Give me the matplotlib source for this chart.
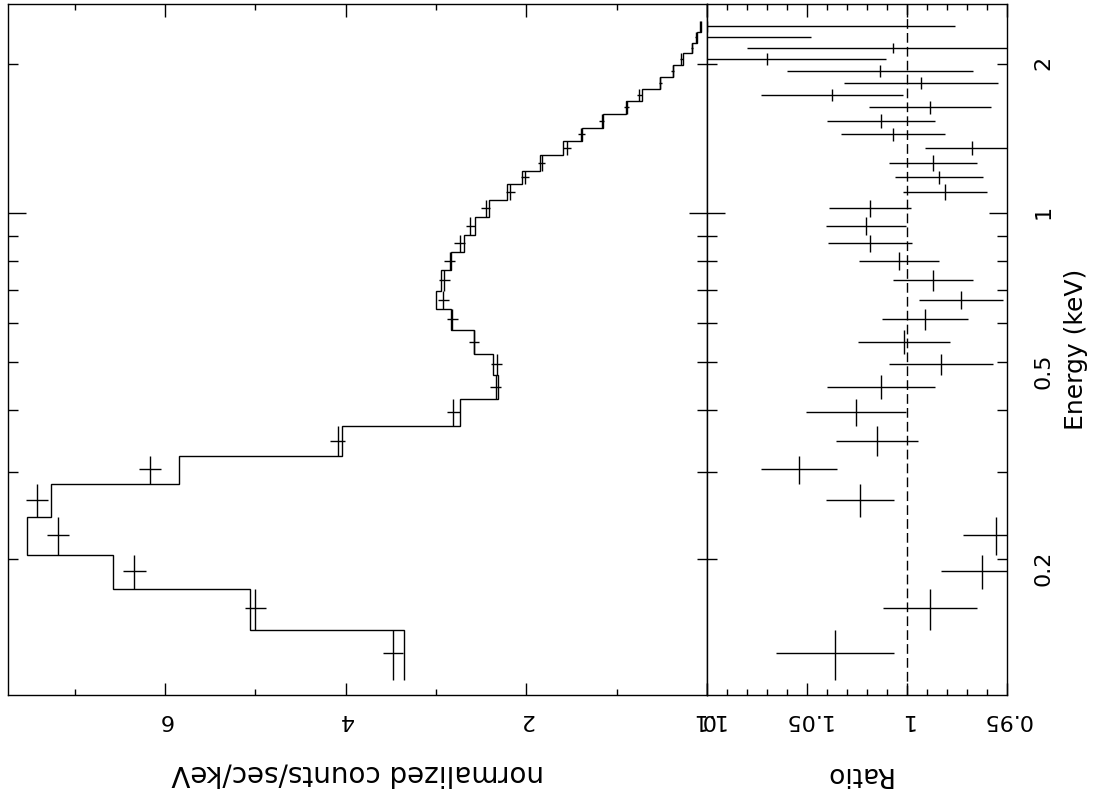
import numpy as np
import matplotlib
matplotlib.use('Agg')
import matplotlib.pyplot as plt
from matplotlib.ticker import FixedLocator, FuncFormatter, MultipleLocator

# energy bin edges (keV), ascending
energy_edges = [0.114, 0.144, 0.174, 0.204, 0.243, 0.284, 0.323, 0.371, 0.421, 0.471,
                0.519, 0.580, 0.640, 0.696, 0.767, 0.834, 0.903, 0.982, 1.062, 1.144,
                1.216, 1.310, 1.398, 1.485, 1.585, 1.684, 1.780, 1.883, 1.991, 2.105,
                2.205, 2.321, 2.443]

# folded model (counts/sec/keV) per bin
model_counts = [3.36, 5.06, 6.58, 7.53, 7.26, 5.85, 4.04, 2.74, 2.31, 2.37,
                2.58, 2.84, 3.00, 2.95, 2.84, 2.69, 2.57, 2.41, 2.22, 2.05,
                1.85, 1.60, 1.38, 1.15, 0.90, 0.72, 0.52, 0.376, 0.265, 0.165,
                0.11, 0.066]

# measured counts and errors per bin
data_counts = [3.48, 5.00, 6.34, 7.19, 7.42, 6.17, 4.09, 2.81, 2.34, 2.33,
               2.58, 2.82, 2.92, 2.91, 2.85, 2.74, 2.62, 2.45, 2.18, 2.02,
               1.83, 1.55, 1.39, 1.165, 0.89, 0.75, 0.515, 0.38, 0.285, 0.166,
               0.126, 0.073]
data_err = [0.11, 0.12, 0.13, 0.12, 0.12, 0.12, 0.08, 0.07, 0.06, 0.06,
            0.06, 0.06, 0.06, 0.06, 0.06, 0.06, 0.05, 0.05, 0.05, 0.045,
            0.04, 0.04, 0.035, 0.03, 0.03, 0.025, 0.02, 0.018, 0.016, 0.012,
            0.01, 0.008]

# data/model ratio per bin
ratio = [1.036, 0.9885, 0.9625, 0.9555, 1.0235, 1.054, 1.015, 1.0255, 1.013, 0.983,
         1.0015, 0.991, 0.973, 0.987, 1.004, 1.0185, 1.0205, 1.0185, 0.981, 0.984,
         0.987, 0.9675, 1.007, 1.013, 0.9885, 1.0375, 0.993, 1.0135, 1.07, 1.007,
         1.14, 1.10]
ratio_err = [0.0295, 0.0235, 0.0205, 0.0165, 0.017, 0.019, 0.0205, 0.025, 0.027, 0.026,
             0.023, 0.0215, 0.021, 0.020, 0.020, 0.021, 0.020, 0.0205, 0.021, 0.022,
             0.022, 0.0235, 0.026, 0.027, 0.0305, 0.0355, 0.0385, 0.0465, 0.0595, 0.073,
             0.092, 0.124]

count_ticks = [0, 2, 4, 6]
ratio_ticks = [0.95, 1.0, 1.05, 1.1]
ratio_tick_labels = ["0.95", "1", "1.05", "1.1"]
energy_minor = [0.2, 0.3, 0.4, 0.5, 0.6, 0.7, 0.8, 0.9, 2.0]
energy_labelled = {0.2: "0.2", 0.5: "0.5", 2.0: "2"}

W, H = 1099, 798
FS = 16
LW = 1.0

plt.rcParams['font.family'] = ['DejaVu Sans']

edges = np.array(energy_edges)
e_mid = 0.5 * (edges[:-1] + edges[1:])
e_err = [e_mid - edges[:-1], edges[1:] - e_mid]

fig = plt.figure(figsize=(W / 100, H / 100), dpi=100)
left, right, top, bottom, split = 8, 1007, 4, 695, 707
ax_c = fig.add_axes([left / W, 1 - bottom / H, (split - left) / W, (bottom - top) / H])
ax_r = fig.add_axes([split / W, 1 - bottom / H, (right - split) / W, (bottom - top) / H])

for ax in (ax_c, ax_r):
    ax.set_yscale('log')
    ax.set_ylim(0.1062, 2.644)
    for s in ax.spines.values():
        s.set_linewidth(LW)
    ax.yaxis.set_major_locator(FixedLocator([1.0]))
    ax.yaxis.set_minor_locator(FixedLocator(energy_minor))
    ax.tick_params(axis='y', which='both', direction='in', left=True, right=True,
                   labelleft=False, labelright=False, width=LW)
    ax.tick_params(axis='y', which='major', length=13)
    ax.tick_params(axis='y', which='minor', length=7)
    ax.tick_params(axis='x', which='both', direction='in', top=True, bottom=True,
                   width=LW, labelsize=FS, labelrotation=180, pad=11)
    ax.tick_params(axis='x', which='major', length=9)
    ax.tick_params(axis='x', which='minor', length=4.5)

# counts panel
ax_c.set_xlim(7.74, 0)
ax_c.xaxis.set_major_locator(FixedLocator(count_ticks))
ax_c.xaxis.set_minor_locator(MultipleLocator(1))
ax_c.set_xticklabels([str(t) for t in count_ticks])
ax_c.stairs(model_counts, edges, orientation='horizontal', baseline=None,
            color='black', linewidth=LW)
ax_c.errorbar(data_counts, e_mid, xerr=data_err, yerr=e_err, fmt='none',
              ecolor='black', elinewidth=LW, capsize=0)
ax_c.set_xlabel("normalized counts/sec/keV", fontsize=20, rotation=180, labelpad=21)

# ratio panel
ax_r.set_xlim(1.1, 0.95)
ax_r.xaxis.set_major_locator(FixedLocator(ratio_ticks))
ax_r.xaxis.set_minor_locator(MultipleLocator(0.01))
ax_r.set_xticklabels(ratio_tick_labels)
ax_r.axvline(1.0, color='black', linewidth=1.0, dashes=(7, 3))
ax_r.errorbar(ratio, e_mid, xerr=ratio_err, yerr=e_err, fmt='none',
              ecolor='black', elinewidth=LW, capsize=0)
ax_r.set_xlabel("Ratio", fontsize=19, rotation=180, labelpad=22)

ax_r.yaxis.set_major_formatter(FuncFormatter(lambda v, p: "1"))
ax_r.yaxis.set_minor_formatter(FuncFormatter(
    lambda v, p: next((lab for k, lab in energy_labelled.items() if abs(v - k) < 1e-6), "")))
ax_r.tick_params(axis='y', which='both', labelright=True, labelsize=FS,
                 labelrotation=90, pad=19)
ax_r.yaxis.set_label_position('right')
ax_r.set_ylabel("Energy (keV)", fontsize=18, rotation=90, labelpad=8)

fig.savefig("out.png", dpi=100)
